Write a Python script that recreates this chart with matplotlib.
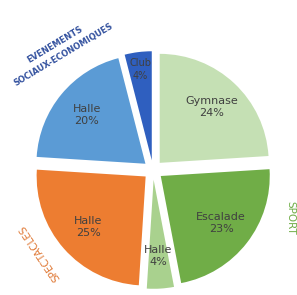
import numpy as np
import matplotlib
matplotlib.use("Agg")
import matplotlib.pyplot as plt

# données du camembert (sens horaire depuis le haut)
lieux = ["Gymnase", "Escalade", "Halle", "Halle", "Halle", "Club"]
parts = [24, 23, 4, 25, 20, 4]
couleurs = ["#c5e0b4", "#70ad47", "#a9d18e", "#ed7d31", "#5b9bd5", "#2f5fbf"]

# taille du rayon en pixels, centre du camembert
R = 109.0
cx, cy = 153.0, 170.0
W, H = 297, 295

fig = plt.figure(figsize=(W / 100, H / 100), dpi=100)
ax = fig.add_axes([0, 0, 1, 1])

wedges, texts, autotexts = ax.pie(
    parts,
    colors=couleurs,
    startangle=90,
    counterclock=False,
    explode=[0.09] * len(parts),
    autopct="%d%%",
    pctdistance=0.7,
    textprops=dict(fontsize=8, color="#404040"),
    wedgeprops=dict(linewidth=0),
)
for t, nom, p in zip(autotexts, lieux, parts):
    t.set_text(f"{nom}\n{p}%")
    t.set_linespacing(1.3)

# le petit "Club" est plus près du bord
x0, y0 = wedges[-1].center
tx, ty = autotexts[-1].get_position()
autotexts[-1].set_position((x0 + (tx - x0) * 1.2, y0 + (ty - y0) * 1.2))
autotexts[-1].set_fontsize(7)

ax.set_xlim(-cx / R, (W - cx) / R)
ax.set_ylim(-(H - cy) / R, cy / R)
ax.set_aspect("auto")
ax.axis("off")

def px(x, y):
    return (x - cx) / R, (cy - y) / R

# titres de catégories
ax.text(*px(55, 45), "EVENEMENTS", rotation=31, ha="center", va="center",
        fontsize=6, color="#34529f", fontweight="bold")
ax.text(*px(63, 55), "SOCIAUX-ECONOMIQUES", rotation=31, ha="center", va="center",
        fontsize=6, color="#34529f", fontweight="bold")
ax.text(*px(40, 253), "SPECTACLES", rotation=124, ha="center", va="center",
        fontsize=7.5, color="#e07b39")
ax.text(*px(290, 218), "SPORT", rotation=-90, ha="center", va="center",
        fontsize=7.5, color="#70ad47")

fig.savefig("out.png", dpi=100)
